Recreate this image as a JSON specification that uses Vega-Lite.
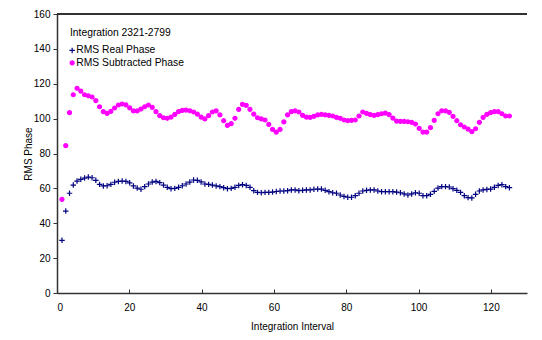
{
  "$schema": "https://vega.github.io/schema/vega-lite/v6.json",
  "width": 470,
  "height": 279,
  "autosize": {"type": "none"},
  "padding": {"left": 57, "top": 14, "right": 15, "bottom": 47},
  "background": "white",
  "config": {
    "view": {"stroke": null},
    "font": "Liberation Sans",
    "axis": {
      "grid": false,
      "domainColor": "#333333",
      "domainWidth": 1.5,
      "tickColor": "#333333",
      "tickWidth": 1,
      "labelColor": "black",
      "labelFontSize": 10,
      "titleColor": "black",
      "titleFontSize": 10,
      "titleFontWeight": "normal"
    }
  },
  "data": {"values": [
    {"x":1.38,"real":30.2,"subtracted":53.7},
    {"x":2.42,"real":47.0,"subtracted":84.5},
    {"x":3.46,"real":57.2,"subtracted":103.4},
    {"x":4.50,"real":61.9,"subtracted":113.7},
    {"x":5.54,"real":64.2,"subtracted":117.4},
    {"x":6.58,"real":65.2,"subtracted":115.8},
    {"x":7.62,"real":65.9,"subtracted":113.7},
    {"x":8.66,"real":66.5,"subtracted":113.1},
    {"x":9.70,"real":66.1,"subtracted":112.4},
    {"x":10.74,"real":64.6,"subtracted":110.3},
    {"x":11.78,"real":62.3,"subtracted":106.8},
    {"x":12.82,"real":61.4,"subtracted":104.0},
    {"x":13.86,"real":61.5,"subtracted":103.0},
    {"x":14.90,"real":62.3,"subtracted":104.2},
    {"x":15.94,"real":63.5,"subtracted":106.1},
    {"x":16.98,"real":64.0,"subtracted":107.8},
    {"x":18.02,"real":64.2,"subtracted":108.4},
    {"x":19.06,"real":64.0,"subtracted":107.9},
    {"x":20.10,"real":63.2,"subtracted":106.2},
    {"x":21.14,"real":61.4,"subtracted":104.4},
    {"x":22.18,"real":60.2,"subtracted":104.4},
    {"x":23.22,"real":59.5,"subtracted":105.5},
    {"x":24.26,"real":61.0,"subtracted":106.8},
    {"x":25.30,"real":62.5,"subtracted":107.8},
    {"x":26.34,"real":63.6,"subtracted":106.5},
    {"x":27.38,"real":64.0,"subtracted":104.0},
    {"x":28.42,"real":63.3,"subtracted":101.7},
    {"x":29.46,"real":61.9,"subtracted":100.5},
    {"x":30.50,"real":60.6,"subtracted":100.2},
    {"x":31.54,"real":59.8,"subtracted":100.9},
    {"x":32.58,"real":60.0,"subtracted":102.4},
    {"x":33.62,"real":60.6,"subtracted":104.0},
    {"x":34.66,"real":61.5,"subtracted":104.7},
    {"x":35.70,"real":62.5,"subtracted":104.9},
    {"x":36.74,"real":63.6,"subtracted":104.5},
    {"x":37.78,"real":64.8,"subtracted":103.8},
    {"x":38.82,"real":64.6,"subtracted":102.6},
    {"x":39.86,"real":63.7,"subtracted":100.9},
    {"x":40.90,"real":62.5,"subtracted":99.8},
    {"x":41.94,"real":62.3,"subtracted":101.7},
    {"x":42.98,"real":61.9,"subtracted":103.8},
    {"x":44.02,"real":61.4,"subtracted":104.4},
    {"x":45.06,"real":61.0,"subtracted":102.1},
    {"x":46.10,"real":60.4,"subtracted":98.8},
    {"x":47.14,"real":59.8,"subtracted":96.1},
    {"x":48.18,"real":60.0,"subtracted":97.1},
    {"x":49.22,"real":60.6,"subtracted":100.2},
    {"x":50.26,"real":61.7,"subtracted":105.3},
    {"x":51.30,"real":62.1,"subtracted":108.2},
    {"x":52.34,"real":61.7,"subtracted":107.6},
    {"x":53.38,"real":60.6,"subtracted":105.3},
    {"x":54.42,"real":58.7,"subtracted":102.6},
    {"x":55.46,"real":57.7,"subtracted":100.5},
    {"x":56.50,"real":57.5,"subtracted":99.9},
    {"x":57.54,"real":57.7,"subtracted":99.2},
    {"x":58.58,"real":57.7,"subtracted":96.7},
    {"x":59.62,"real":57.9,"subtracted":93.8},
    {"x":60.66,"real":58.2,"subtracted":92.3},
    {"x":61.70,"real":58.5,"subtracted":93.8},
    {"x":62.74,"real":58.5,"subtracted":98.1},
    {"x":63.78,"real":58.7,"subtracted":102.1},
    {"x":64.82,"real":59.1,"subtracted":104.0},
    {"x":65.86,"real":59.1,"subtracted":104.4},
    {"x":66.90,"real":58.7,"subtracted":103.8},
    {"x":67.94,"real":58.9,"subtracted":101.9},
    {"x":68.98,"real":59.1,"subtracted":100.9},
    {"x":70.02,"real":59.1,"subtracted":100.7},
    {"x":71.06,"real":59.5,"subtracted":101.3},
    {"x":72.10,"real":59.6,"subtracted":102.1},
    {"x":73.14,"real":59.6,"subtracted":102.4},
    {"x":74.18,"real":58.9,"subtracted":102.2},
    {"x":75.22,"real":58.1,"subtracted":101.9},
    {"x":76.26,"real":57.5,"subtracted":101.5},
    {"x":77.30,"real":57.2,"subtracted":100.7},
    {"x":78.34,"real":56.2,"subtracted":100.2},
    {"x":79.38,"real":55.4,"subtracted":99.2},
    {"x":80.42,"real":54.9,"subtracted":98.8},
    {"x":81.46,"real":54.9,"subtracted":99.0},
    {"x":82.50,"real":55.8,"subtracted":99.2},
    {"x":83.54,"real":57.2,"subtracted":101.5},
    {"x":84.58,"real":58.5,"subtracted":103.8},
    {"x":85.62,"real":58.9,"subtracted":103.0},
    {"x":86.66,"real":59.1,"subtracted":102.3},
    {"x":87.70,"real":59.1,"subtracted":101.9},
    {"x":88.74,"real":58.5,"subtracted":102.3},
    {"x":89.78,"real":58.1,"subtracted":102.8},
    {"x":90.82,"real":58.1,"subtracted":103.2},
    {"x":91.86,"real":58.1,"subtracted":102.3},
    {"x":92.90,"real":58.1,"subtracted":100.3},
    {"x":93.94,"real":57.9,"subtracted":98.6},
    {"x":94.98,"real":57.5,"subtracted":98.4},
    {"x":96.02,"real":56.8,"subtracted":98.4},
    {"x":97.06,"real":56.2,"subtracted":98.2},
    {"x":98.10,"real":56.8,"subtracted":97.9},
    {"x":99.14,"real":57.5,"subtracted":96.9},
    {"x":100.18,"real":57.2,"subtracted":94.4},
    {"x":101.22,"real":55.8,"subtracted":92.3},
    {"x":102.26,"real":55.8,"subtracted":92.3},
    {"x":103.30,"real":56.6,"subtracted":94.8},
    {"x":104.34,"real":58.3,"subtracted":99.0},
    {"x":105.38,"real":60.2,"subtracted":102.8},
    {"x":106.42,"real":61.0,"subtracted":104.5},
    {"x":107.46,"real":61.0,"subtracted":104.4},
    {"x":108.50,"real":60.8,"subtracted":103.6},
    {"x":109.54,"real":59.8,"subtracted":101.3},
    {"x":110.58,"real":58.9,"subtracted":98.8},
    {"x":111.62,"real":57.7,"subtracted":96.5},
    {"x":112.66,"real":55.8,"subtracted":95.2},
    {"x":113.70,"real":54.7,"subtracted":94.0},
    {"x":114.74,"real":54.5,"subtracted":92.5},
    {"x":115.78,"real":56.6,"subtracted":94.2},
    {"x":116.82,"real":58.5,"subtracted":97.9},
    {"x":117.86,"real":59.1,"subtracted":100.7},
    {"x":118.90,"real":59.4,"subtracted":102.4},
    {"x":119.94,"real":59.6,"subtracted":103.4},
    {"x":120.98,"real":60.6,"subtracted":104.0},
    {"x":122.02,"real":61.7,"subtracted":104.0},
    {"x":123.06,"real":62.1,"subtracted":102.8},
    {"x":124.10,"real":61.0,"subtracted":101.5},
    {"x":125.14,"real":60.4,"subtracted":101.5}
  ]},
  "layer": [
    {
      "transform": [{"fold": ["real", "subtracted"], "as": ["series", "value"]}],
      "mark": {"type": "point", "opacity": 1, "strokeWidth": 1.2},
      "encoding": {
        "x": {
          "field": "x", "type": "quantitative",
          "scale": {"domain": [0, 130], "nice": false, "zero": true},
          "axis": {
            "values": [0, 20, 40, 60, 80, 100, 120],
            "labelOverlap": false,
            "tickSize": -4,
            "labelPadding": 13,
            "title": "Integration Interval",
            "titlePadding": 9
          }
        },
        "y": {
          "field": "value", "type": "quantitative",
          "scale": {"domain": [0, 160], "nice": false},
          "axis": {
            "values": [0, 20, 40, 60, 80, 100, 120, 140, 160],
            "labelOverlap": false,
            "tickSize": 4,
            "labelPadding": 3,
            "title": "RMS Phase",
            "titlePadding": 0
          }
        },
        "shape": {
          "field": "series", "type": "nominal",
          "scale": {"domain": ["real", "subtracted"], "range": ["M-1,0H1M0,-1V1", "circle"]},
          "legend": {
            "orient": "none",
            "legendX": 13,
            "legendY": 14,
            "padding": 0,
            "title": "Integration 2321-2799",
            "titleFontWeight": "normal",
            "titleFontSize": 10.3,
            "titleColor": "black",
            "titlePadding": 7,
            "labelFontSize": 10.3,
            "labelColor": "black",
            "labelOffset": -1,
            "symbolOffset": -3,
            "rowPadding": 1.5,
            "symbolStrokeWidth": 1.2,
            "labelExpr": "datum.label == 'real' ? 'RMS Real Phase' : 'RMS Subtracted Phase'"
          }
        },
        "stroke": {
          "field": "series", "type": "nominal",
          "scale": {"domain": ["real", "subtracted"], "range": ["#000080", "#FF00FF"]}
        },
        "fill": {
          "field": "series", "type": "nominal",
          "scale": {"domain": ["real", "subtracted"], "range": ["transparent", "#FF00FF"]}
        },
        "size": {
          "field": "series", "type": "nominal",
          "scale": {"domain": ["real", "subtracted"], "range": [30, 16]}
        }
      }
    },
    {
      "mark": {"type": "rule", "color": "#333333", "strokeWidth": 1.5},
      "encoding": {
        "y": {
          "datum": 160, "type": "quantitative",
          "axis": {
            "values": [0, 20, 40, 60, 80, 100, 120, 140, 160],
            "labelOverlap": false,
            "tickSize": 4,
            "labelPadding": 3,
            "title": "RMS Phase",
            "titlePadding": 0
          }
        }
      }
    }
  ]
}
